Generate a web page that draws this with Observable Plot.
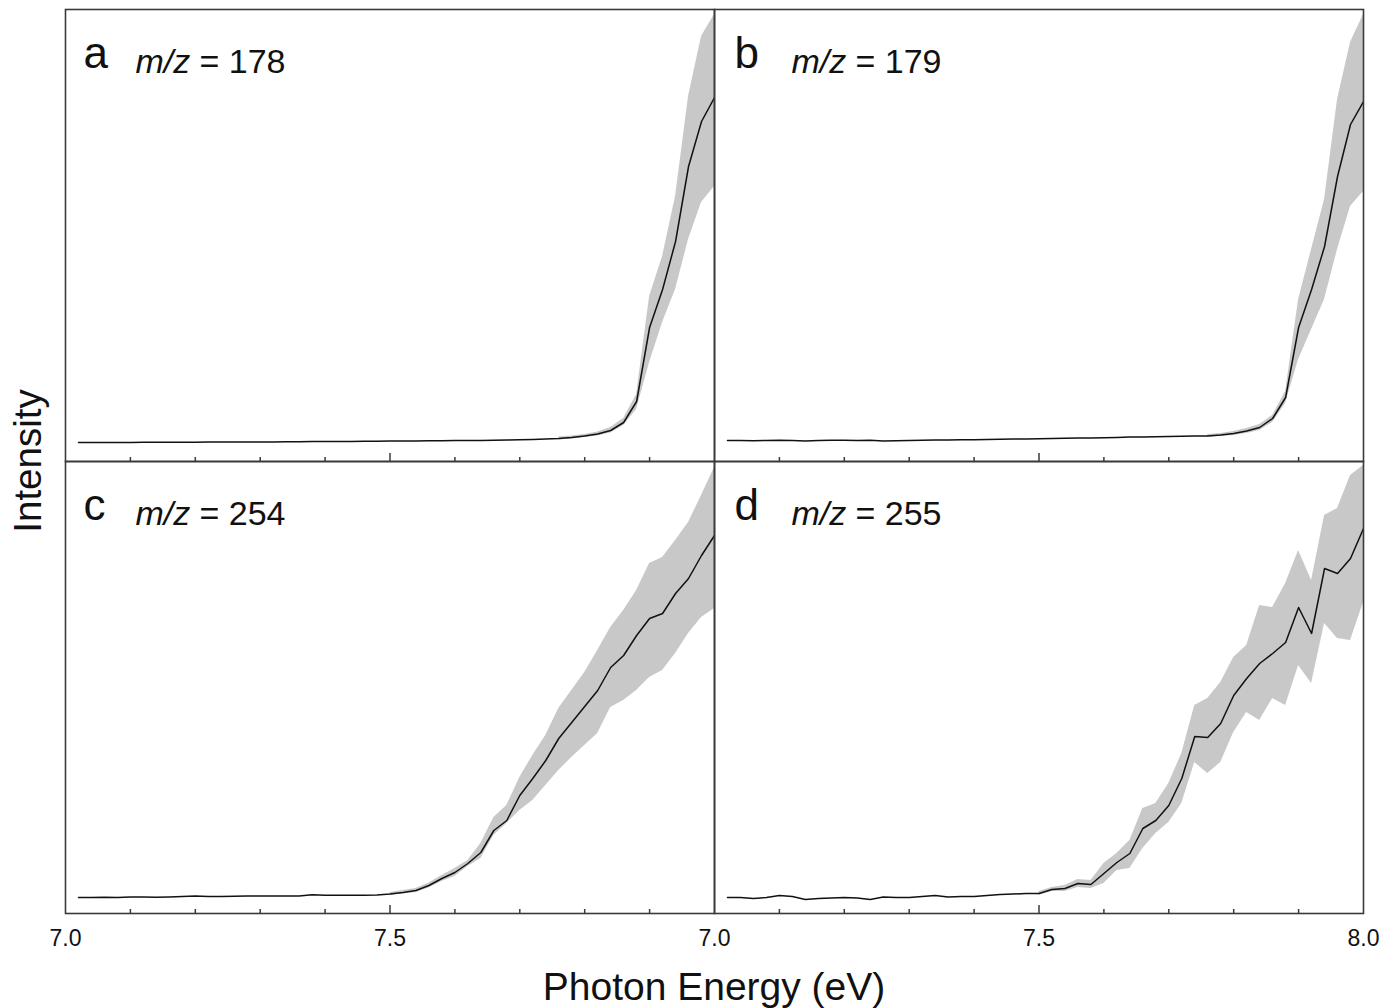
<!DOCTYPE html>
<html>
<head>
<meta charset="utf-8">
<script src="https://cdn.jsdelivr.net/npm/d3@7"></script>
<script src="https://cdn.jsdelivr.net/npm/@observablehq/plot@0.6"></script>
<style>
  html, body { margin: 0; padding: 0; background: #fff; }
  #wrap { position: relative; width: 1383px; height: 1008px; font-family: "Liberation Sans", Arial, sans-serif; }
  #xtitle { position: absolute; left: 0; width: 1383px; top: 964px; text-align: center; font-size: 39px; line-height: 46px; color: #111; padding-left: 45px; box-sizing: border-box; }
  #ytitle { position: absolute; left: 28px; top: 461px; transform: translate(-50%, -50%) rotate(-90deg); font-size: 38.5px; color: #111; white-space: nowrap; }
</style>
</head>
<body>
<div id="wrap">
  <div id="chart"></div>
  <div id="xtitle">Photon Energy (eV)</div>
  <div id="ytitle">Intensity</div>
</div>
<script>
// ---------- data (intensity in arbitrary units) ----------
const energies = [7.02,7.04,7.06,7.08,7.10,7.12,7.14,7.16,7.18,7.20,7.22,7.24,7.26,7.28,7.30,7.32,7.34,7.36,7.38,7.40,
  7.42,7.44,7.46,7.48,7.50,7.52,7.54,7.56,7.58,7.60,7.62,7.64,7.66,7.68,7.70,7.72,7.74,7.76,7.78,7.80,
  7.82,7.84,7.86,7.88,7.90,7.92,7.94,7.96,7.98,8.00];

const lineA = [19,19,19.1,19,19.1,19.2,19.2,19.2,19.3,19.3,19.4,19.4,19.5,19.5,19.6,19.6,19.7,19.8,19.9,20,
  20,20.1,20.2,20.3,20.4,20.5,20.6,20.7,20.8,20.9,21,21.1,21.2,21.4,21.7,22,22.5,23,24,25.5,
  27.5,31,39,60,134,172,220,295,340,364];
const lineB = [21,21,20.8,21,21.2,21,20.6,21,21.2,21.2,21,21.3,20.6,20.8,21,21.2,21.4,21.5,21.7,21.8,
  22,22.2,22.4,22.6,22.8,23,23.2,23.4,23.6,23.8,24.1,24.4,24.6,24.8,25,25.2,25.4,25.6,26.5,28,
  30.5,34,43,64,134,172,215,285,337,360];
const lineC = [16,16,16.2,16,16.5,16.5,16.3,16.6,17,17.5,17,17,17.2,17.5,17.4,17.5,17.5,17.6,18.8,18.2,
  18.2,18.3,18.3,18.6,19.5,21,23,28,35,41,50,61,83,93,118,135,153,175,191,207,
  223,246,258,278,295,300,320,335,358,378];
const lineD = [16,16,15,16,18,17,14,15,15.5,16,15.5,14,16.5,16,16,17,18,16.5,17,17,
  18,19,19.5,20,20,24,25,30,29,40,51,60,85,93,108,135,177,176,190,218,
  235,250,260,271,306,280,345,340,355,385];

// uncertainty bands (only where they are visible)
const bandEnergiesAB = [7.76,7.78,7.80,7.82,7.84,7.86,7.88,7.90,7.92,7.94,7.96,7.98,8.00];
const upperA = [24.5,25.5,27,29.5,34,43,67,165,205,265,365,425,447];
const lowerA = [21.5,22.5,24,25.5,28.5,36,52,99,139,172,222,259,275];
const upperB = [27,28,30,33,37,46,70,162,212,262,362,419,447];
const lowerB = [24.5,25,26,28,31,39,58,102,132,162,212,255,270];

const bandEnergiesCD = [7.50,7.52,7.54,7.56,7.58,7.60,7.62,7.64,7.66,7.68,7.70,7.72,7.74,7.76,7.78,7.80,
  7.82,7.84,7.86,7.88,7.90,7.92,7.94,7.96,7.98,8.00];
const upperC = [21,23,25,30.5,38,45,53,70,96,108,136,158,178,205,223,241,263,286,303,323,350,356,373,391,418,446];
const lowerC = [18,19.5,21,25.5,32,37,47,55,78,90,103,113,128,143,156,168,180,206,213,223,236,243,260,280,296,305];
const upperD = [22,26,28,34,33,50,60,73,105,110,130,160,208,215,231,256,268,308,306,330,363,333,398,405,438,448];
const lowerD = [18,22,22,26,25,30,43,45,65,80,91,110,151,140,151,181,201,193,215,208,248,230,290,275,273,311];

const panelLetters = ["a","b","c","d"];
const panelMz = ["178","179","254","255"];
const panelCols = ["left","right","left","right"];
const panelRows = ["top","top","bottom","bottom"];

const minorTicks = [7.1,7.2,7.3,7.4,7.6,7.7,7.8,7.9];
const majorTicks = [7.5];
const tickValuesLeft = [7.0, 7.5];
const tickValuesRight = [7.0, 7.5, 8.0];

// ---------- build tables ----------
const lines = [lineA, lineB, lineC, lineD];
const bands = [
  [bandEnergiesAB, upperA, lowerA],
  [bandEnergiesAB, upperB, lowerB],
  [bandEnergiesCD, upperC, lowerC],
  [bandEnergiesCD, upperD, lowerD]
];
const lineRows = [];
const bandRows = [];
for (let p = 0; p < 4; p++) {
  energies.forEach((e, i) => lineRows.push({panel: p, col: panelCols[p], row: panelRows[p], e, v: lines[p][i]}));
  const [be, up, lo] = bands[p];
  be.forEach((e, i) => bandRows.push({panel: p, col: panelCols[p], row: panelRows[p], e, hi: up[i], lo: lo[i]}));
}
const labelRows = panelLetters.map((l, p) => ({letter: l, mz: "= " + panelMz[p], col: panelCols[p], row: panelRows[p]}));
const tickLabelRows = [
  ...tickValuesLeft.map(v => ({col: "left", row: "bottom", v})),
  ...tickValuesRight.map(v => ({col: "right", row: "bottom", v}))
];

const H = 1008, mTop = 9, mBottom = 95;
const facetH = (H - mTop - mBottom) / 2;
const font = "Liberation Sans, Arial, sans-serif";
const ink = "#3a3a3a";

function panelText(col, dxLetter, dxMz) {
  const rows = labelRows.filter(d => d.col === col);
  return [
    Plot.text(rows, {fx: "col", fy: "row", text: "letter", frameAnchor: "top-left", textAnchor: "start",
      lineAnchor: "middle", dx: dxLetter, dy: 44, fontSize: 44, fill: "#111", fontFamily: font}),
    Plot.text(rows, {fx: "col", fy: "row", text: () => "m/z", frameAnchor: "top-left", textAnchor: "start",
      lineAnchor: "middle", dx: dxMz, dy: 53, fontSize: 34, fontStyle: "italic", fill: "#111", fontFamily: font}),
    Plot.text(rows, {fx: "col", fy: "row", text: "mz", frameAnchor: "top-left", textAnchor: "start",
      lineAnchor: "middle", dx: dxMz + 64, dy: 53, fontSize: 34, fill: "#111", fontFamily: font})
  ];
}

const chart = Plot.plot({
  width: 1383,
  height: H,
  marginLeft: 65,
  marginRight: 20,
  marginTop: mTop,
  marginBottom: mBottom,
  style: {fontFamily: font, background: "#fff"},
  fx: {domain: ["left", "right"], padding: 0, axis: null},
  fy: {domain: ["top", "bottom"], padding: 0, axis: null},
  x: {domain: [7.0, 8.0], axis: null},
  y: {domain: [0, facetH], axis: null},
  marks: [
    Plot.areaY(bandRows, {fx: "col", fy: "row", x: "e", y1: "lo", y2: "hi", z: "panel", fill: "#c8c8c8", clip: true}),
    Plot.line(lineRows, {fx: "col", fy: "row", x: "e", y: "v", z: "panel", stroke: "#111", strokeWidth: 1.5, clip: true}),
    Plot.ruleX(minorTicks, {x: d => d, insetTop: facetH - 4, stroke: ink, strokeWidth: 1.5}),
    Plot.ruleX(majorTicks, {x: d => d, insetTop: facetH - 8, stroke: ink, strokeWidth: 1.5}),
    Plot.frame({stroke: ink, strokeWidth: 1.6}),
    ...panelText("left", 18, 70),
    ...panelText("right", 20, 77),
    Plot.text(tickLabelRows, {fx: "col", fy: "row", x: "v", text: d => d.v.toFixed(1), frameAnchor: "bottom",
      lineAnchor: "middle", dy: 25, fontSize: 23, fill: "#111", fontFamily: font})
  ]
});
document.getElementById("chart").appendChild(chart);
</script>
</body>
</html>
